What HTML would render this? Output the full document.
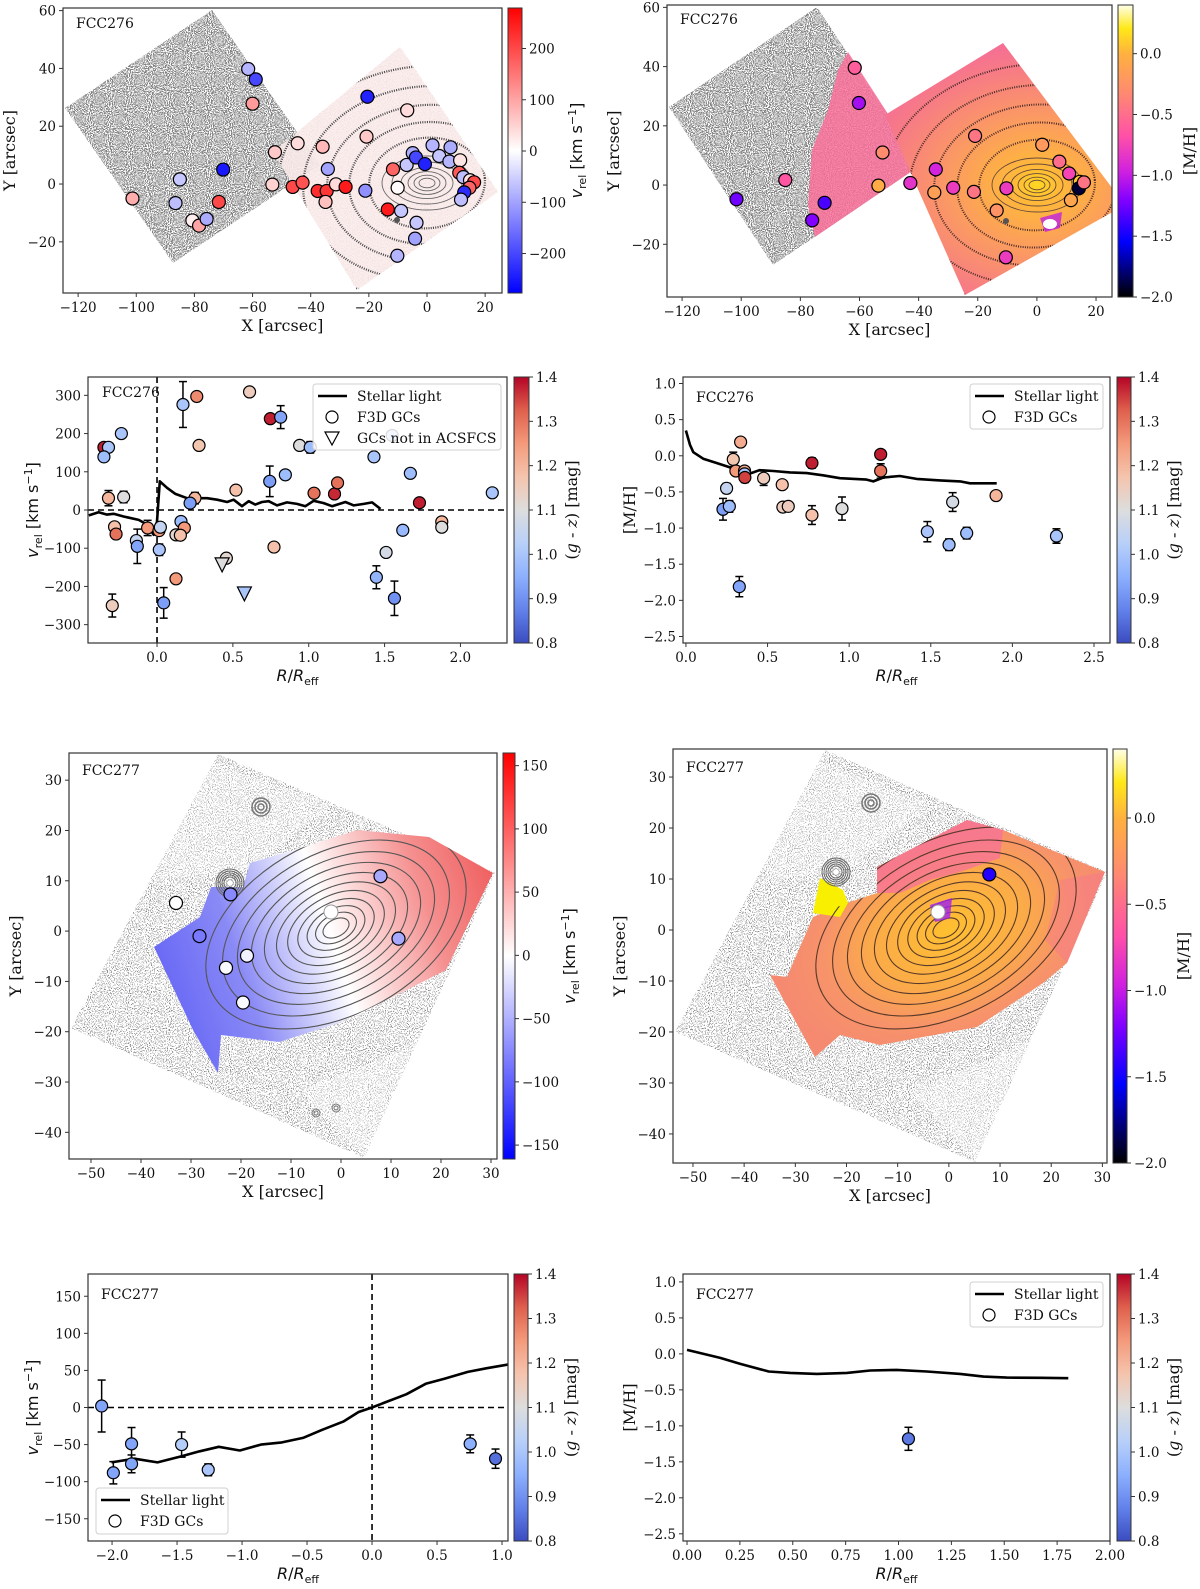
<!DOCTYPE html>
<html><head><meta charset="utf-8"><title>FCC276 / FCC277 GC kinematics</title>
<style>
html,body{margin:0;padding:0;background:#fff;}
svg{display:block;}
text{font-family:"DejaVu Serif","Liberation Serif",serif;fill:#111;}
.ax{font-family:"DejaVu Sans","Liberation Sans",sans-serif;}
</style></head>
<body>
<svg id="fig" xmlns="http://www.w3.org/2000/svg" width="1200" height="1589" viewBox="0 0 1200 1589">
<defs>
<filter id="nzDark" x="0" y="0" width="100%" height="100%"><feTurbulence type="fractalNoise" baseFrequency="0.95" numOctaves="1" seed="4"/><feColorMatrix type="matrix" values="0 0 0 0 0.22 0 0 0 0 0.22 0 0 0 0 0.22 -14 0 0 0 7.6"/><feComposite operator="in" in2="SourceGraphic"/></filter>
<filter id="nzLight" x="0" y="0" width="100%" height="100%"><feTurbulence type="fractalNoise" baseFrequency="0.95" numOctaves="1" seed="9"/><feColorMatrix type="matrix" values="0 0 0 0 0.25 0 0 0 0 0.25 0 0 0 0 0.25 -14 0 0 0 6.3"/><feComposite operator="in" in2="SourceGraphic"/></filter>
<radialGradient id="mhGrad276" gradientUnits="userSpaceOnUse" cx="1037" cy="185" r="150" gradientTransform="translate(1037 185) scale(1.3 1) translate(-1037 -185)"><stop offset="0" stop-color="#ffd820"/><stop offset="0.12" stop-color="#ffb83a"/><stop offset="0.45" stop-color="#fb9a62"/><stop offset="0.75" stop-color="#f77e82"/><stop offset="1" stop-color="#f46a9a"/></radialGradient>
<radialGradient id="mhGrad277" gradientUnits="userSpaceOnUse" cx="949" cy="930" r="120" gradientTransform="rotate(-22 949 930) translate(949 930) scale(1.45 1) translate(-949 -930)"><stop offset="0" stop-color="#ffc030"/><stop offset="0.45" stop-color="#fbab48"/><stop offset="0.75" stop-color="#f7936a"/><stop offset="1" stop-color="#f58a70"/></radialGradient>
<linearGradient id="velGrad277" gradientUnits="userSpaceOnUse" x1="154" y1="990" x2="493" y2="880"><stop offset="0" stop-color="#6464f6"/><stop offset="0.25" stop-color="#8a8af6"/><stop offset="0.52" stop-color="#ffffff"/><stop offset="0.8" stop-color="#f59090"/><stop offset="1" stop-color="#f06262"/></linearGradient>
<linearGradient id="cbBwr" x1="0" y1="1" x2="0" y2="0"><stop offset="0" stop-color="#0000ff"/><stop offset="0.5" stop-color="#ffffff"/><stop offset="1" stop-color="#ff0000"/></linearGradient>
<linearGradient id="cbMh" x1="0" y1="1" x2="0" y2="0"><stop offset="0" stop-color="#000000"/><stop offset="0.19" stop-color="#0000ff"/><stop offset="0.33" stop-color="#8000ff"/><stop offset="0.43" stop-color="#d020e0"/><stop offset="0.55" stop-color="#ff50a8"/><stop offset="0.7" stop-color="#ff8a70"/><stop offset="0.83" stop-color="#ffb040"/><stop offset="0.92" stop-color="#ffe818"/><stop offset="1" stop-color="#ffffe8"/></linearGradient>
<linearGradient id="cbCw" x1="0" y1="1" x2="0" y2="0"><stop offset="0" stop-color="#3b4cc0"/><stop offset="0.125" stop-color="#6282ea"/><stop offset="0.25" stop-color="#8db0fe"/><stop offset="0.375" stop-color="#b8d0f9"/><stop offset="0.5" stop-color="#dddddd"/><stop offset="0.625" stop-color="#f5c4ad"/><stop offset="0.75" stop-color="#f49a7b"/><stop offset="0.875" stop-color="#de604d"/><stop offset="1" stop-color="#b40426"/></linearGradient>
</defs>
</svg>
<script>
// ---------------- DATA ----------------
const p1X = [-61.5,-58.9,-60.0,-70.1,-85.0,-101.3,-86.5,-80.7,-78.4,-75.8,-71.6,-52.3,-44.5,-53.2,-46.2,-42.8,-35.9,-34.1,-37.6,-34.5,-31.3,-34.9,-28.0,-20.5,-20.8,-21.2,-6.8,-11.7,-10.1,-13.5,-8.9,-3.6,-4.1,-10.2,-7.0,-4.9,-3.8,-0.7,1.9,4.2,8.1,7.7,11.4,11.1,12.5,14.8,16.2,14.6,12.8,11.7];
const p1Y = [39.8,36.2,27.8,5.0,1.6,-5.0,-6.6,-12.6,-14.4,-12.1,-6.2,11.0,14.1,-0.2,-1.0,0.5,12.9,5.2,-2.4,-2.4,-0.1,-6.2,-1.0,30.2,16.4,-2.3,25.5,5.1,-1.3,-8.8,-9.3,-13.4,-18.9,-24.8,6.6,10.7,9.2,6.9,13.4,9.7,12.7,7.8,8.2,3.9,2.4,1.3,0.6,-1.3,-2.9,-5.4];
const p1V = [-80,-200,110,-250,-60,90,-70,20,100,-90,200,60,40,50,200,190,80,-100,230,220,40,70,250,-240,60,-120,40,170,5,250,-60,-60,-100,-80,-60,-90,-200,-240,-80,-60,-90,-80,30,180,-70,30,200,170,-230,-70];
const p1CbTicks = [200,100,0,-100,-200];
const p2X = [-61.6,-60.2,-85.1,-101.6,-71.8,-76.0,-52.2,-53.6,-42.8,-34.2,-34.7,-28.3,-21.3,-20.9,-13.6,-10.3,-10.5,1.8,7.6,10.9,11.5,14.5,14.2,15.9];
const p2Y = [39.6,27.7,1.7,-4.8,-6.0,-11.9,11.0,-0.2,0.7,5.3,-2.5,-0.9,-2.3,16.6,-8.6,-1.1,-24.4,13.6,7.9,3.9,-5.1,1.1,-1.1,0.9];
const p2MH = [-0.6,-1.1,-0.65,-1.25,-1.35,-1.2,-0.3,-0.05,-0.85,-0.95,-0.15,-0.8,-0.45,-0.45,-0.25,-0.8,-0.8,-0.2,-0.5,-0.75,-0.1,0.1,-1.9,-0.45];
const mhCbTicks = [0.0,-0.5,-1.0,-1.5,-2.0];
const mapXTicks1 = [-120,-100,-80,-60,-40,-20,0,20];
const mapYTicks1 = [60,40,20,0,-20];
const p3R = [-0.35,-0.32,-0.35,-0.235,-0.32,-0.22,-0.28,-0.27,-0.136,-0.13,-0.062,0.013,0.022,0.015,0.171,0.262,0.277,0.25,0.218,0.158,0.18,0.125,0.154,0.125,-0.295,0.044,0.457,0.429,0.576,0.52,0.61,0.747,0.815,0.743,0.846,0.771,0.94,1.01,1.035,1.17,1.19,1.43,1.55,1.67,1.73,1.51,1.62,1.446,1.565,1.877,1.877,2.21];
const p3V = [164,164,139,200,31,34,-44,-63,-80,-95,-47,-54,-45,-104,276,297,169,31,18,-30,-47,-65,-66,-180,-250,-243,-126,-141,-217,52,309,239,243,75,92,-97,169,164,44,42,71,139,195,96,19,-111,-53,-176,-231,-31,-45,45];
const p3G = [1.38,1.0,0.98,1.0,1.2,1.1,1.18,1.3,1.05,0.93,1.25,1.25,1.05,1.0,1.0,1.27,1.17,1.2,0.92,0.98,1.25,1.12,1.18,1.25,1.15,0.92,1.12,1.1,1.0,1.18,1.15,1.38,0.93,0.92,0.98,1.18,1.1,0.98,1.3,1.37,1.3,1.0,1.0,0.98,1.38,1.08,0.97,0.96,0.9,1.2,1.1,1.0];
const p3E = [0,0,10,0,20,15,0,0,0,45,20,0,0,15,60,0,0,15,0,0,0,0,0,0,30,40,0,0,0,0,0,0,30,40,0,0,0,15,0,0,0,10,0,10,0,0,0,30,45,0,0,0];
const p3M = ['o','o','o','o','o','o','o','o','o','o','o','o','o','o','o','o','o','o','o','o','o','o','o','o','o','o','o','v','v','o','o','o','o','o','o','o','o','o','o','o','o','o','o','o','o','o','o','o','o','o','o','o'];
const p3LineR = [-0.45,-0.385,-0.33,-0.286,-0.22,-0.121,-0.066,-0.022,0,0.018,0.066,0.121,0.198,0.264,0.33,0.396,0.462,0.505,0.56,0.604,0.648,0.692,0.736,0.791,0.857,0.923,0.978,1.033,1.099,1.154,1.242,1.297,1.363,1.418,1.473];
const p3LineV = [-14,-6,-12,-10,-17,-26,-38,-65,-30,75,58,42,31,31,31,27,21,27,10,23,14,21,23,12,20,16,10,24,18,10,21,12,16,20,3];
const p3XTicks = [0.0,0.5,1.0,1.5,2.0];
const p3YTicks = [300,200,100,0,-100,-200,-300];
const gzTicks = [1.4,1.3,1.2,1.1,1.0,0.9,0.8];
const p4R = [0.227,0.249,0.266,0.29,0.335,0.306,0.359,0.359,0.361,0.327,0.476,0.59,0.594,0.627,0.772,0.772,0.956,1.193,1.193,1.479,1.612,1.634,1.72,1.9,2.27];
const p4MH = [-0.74,-0.45,-0.70,-0.05,0.19,-0.21,-0.21,-0.25,-0.30,-1.81,-0.31,-0.40,-0.71,-0.70,-0.10,-0.82,-0.73,0.02,-0.21,-1.05,-1.23,-0.64,-1.07,-0.55,-1.11];
const p4G = [0.92,1.05,0.98,1.17,1.22,1.25,1.22,1.0,1.35,0.93,1.15,1.18,1.15,1.15,1.38,1.18,1.1,1.38,1.3,1.0,0.98,1.08,0.98,1.2,1.0];
const p4E = [0.15,0.07,0.08,0.1,0.06,0.06,0.05,0.05,0.07,0.14,0.1,0.05,0.05,0.05,0.07,0.13,0.16,0.05,0.1,0.14,0.08,0.13,0.08,0.05,0.1];
const p4LineR = [0,0.025,0.045,0.106,0.188,0.27,0.33,0.40,0.45,0.535,0.637,0.74,0.84,0.944,1.107,1.148,1.21,1.31,1.413,1.556,1.68,1.74,1.904];
const p4LineMH = [0.35,0.15,0.05,-0.04,-0.10,-0.16,-0.26,-0.24,-0.20,-0.21,-0.23,-0.24,-0.27,-0.31,-0.33,-0.355,-0.30,-0.28,-0.32,-0.34,-0.355,-0.38,-0.38];
const p4XTicks = [0.0,0.5,1.0,1.5,2.0,2.5];
const mhYTicks = [1.0,0.5,0.0,-0.5,-1.0,-1.5,-2.0,-2.5];
const p5X = [-33.0,-22.1,-28.3,-18.8,-23.0,-19.6,7.9,11.5];
const p5Y = [5.6,7.3,-1.0,-4.9,-7.3,-14.2,10.9,-1.5];
const p5V = [0,-75,-85,-10,-5,-5,-55,-55];
const p5CbTicks = [150,100,50,0,-50,-100,-150];
const mapXTicks2 = [-50,-40,-30,-20,-10,0,10,20,30];
const mapYTicks2 = [30,20,10,0,-10,-20,-30,-40];
const p6X = [7.9];
const p6Y = [10.9];
const p6MH = [-1.45];
const p7R = [-2.08,-1.99,-1.85,-1.85,-1.465,-1.26,0.755,0.95];
const p7V = [2,-88,-49,-76,-50,-84,-49,-69];
const p7G = [0.93,0.93,0.93,0.93,1.02,1.0,0.95,0.85];
const p7E = [35,15,22,12,17,8,12,13];
const p7LineR = [-2.004,-1.827,-1.65,-1.473,-1.326,-1.179,-1.017,-0.855,-0.693,-0.531,-0.383,-0.221,-0.103,0,0.088,0.265,0.413,0.56,0.737,0.884,1.046];
const p7LineV = [-74,-69,-74,-66,-59,-53,-58,-50,-47,-41,-30,-19,-6,0,6,18,32,39,48,53,58];
const p7XTicks = [-2.0,-1.5,-1.0,-0.5,0.0,0.5,1.0];
const p7YTicks = [150,100,50,0,-50,-100,-150];
const p8R = [1.047];
const p8MH = [-1.18];
const p8G = [0.86];
const p8E = [0.16];
const p8LineR = [0,0.157,0.252,0.386,0.488,0.614,0.756,0.866,0.992,1.134,1.291,1.402,1.512,1.669,1.803];
const p8LineMH = [0.056,-0.056,-0.139,-0.245,-0.264,-0.278,-0.264,-0.231,-0.222,-0.245,-0.278,-0.315,-0.329,-0.333,-0.338];
const p8XTicks = [0.00,0.25,0.50,0.75,1.00,1.25,1.50,1.75,2.00];

// ---------------- HELPERS ----------------
const NS = 'http://www.w3.org/2000/svg';
const svg = document.getElementById('fig');
function mk(tag, a, p) { const e = document.createElementNS(NS, tag); for (const k in a) e.setAttribute(k, a[k]); (p || svg).appendChild(e); return e; }
function lerpStops(stops, t) {
  t = Math.max(0, Math.min(1, t));
  for (let i = 1; i < stops.length; i++) {
    if (t <= stops[i][0]) {
      const a = stops[i-1], b = stops[i], u = (t - a[0]) / (b[0] - a[0] || 1);
      return 'rgb(' + [1,2,3].map(j => Math.round(a[j] + (b[j]-a[j]) * u)).join(',') + ')';
    }
  }
  const l = stops[stops.length-1]; return 'rgb(' + l[1] + ',' + l[2] + ',' + l[3] + ')';
}
const CW = [[0,59,76,192],[0.125,98,130,234],[0.25,141,176,254],[0.375,184,208,249],[0.5,221,221,221],[0.625,245,196,173],[0.75,244,154,123],[0.875,222,96,77],[1,180,4,38]];
const BWR = [[0,0,0,255],[0.5,255,255,255],[1,255,0,0]];
const MHC = [[0,0,0,0],[0.19,0,0,255],[0.33,128,0,255],[0.43,208,32,224],[0.55,255,80,168],[0.7,255,138,112],[0.83,255,176,64],[0.92,255,232,24],[1,255,255,232]];
const gzColor = g => lerpStops(CW, (g - 0.8) / 0.6);
const mhColor = m => lerpStops(MHC, (m + 2.0) / 2.4);
function fmt(v, d) { const s = v.toFixed(d); return s.replace('-', '\u2212'); }

function makeAxes(name, f) {
  const g = mk('g', {});
  
  
  f.g = g;
  f.sx = v => f.x0 + (v - f.xmin) / (f.xmax - f.xmin) * (f.x1 - f.x0);
  f.sy = v => f.y1 - (v - f.ymin) / (f.ymax - f.ymin) * (f.y1 - f.y0);
  const cid = name + '-clip';
  const cp = mk('clipPath', { id: cid }, g);
  mk('rect', { x: f.x0, y: f.y0, width: f.x1 - f.x0, height: f.y1 - f.y0 }, cp);
  f.plot = mk('g', { 'clip-path': 'url(#' + cid + ')' }, g);
  
  
  return f;
}
function drawFrameTicks(f, xt, yt, xd, yd, xlab, ylabFn) {
  const g = f.g;
  const fr = mk('rect', { x: f.x0, y: f.y0, width: f.x1 - f.x0, height: f.y1 - f.y0, fill: 'none', stroke: '#333', 'stroke-width': 1.2 }, g);
  
  
  xt.forEach(v => {
    const x = f.sx(v);
    mk('line', { x1: x, y1: f.y1, x2: x, y2: f.y1 + 4, stroke: '#333', 'stroke-width': 1 }, g);
    const t = mk('text', { x: x, y: f.y1 + 19, 'font-size': 13.5, 'text-anchor': 'middle' }, g);
    t.textContent = fmt(v, xd);
    
    
  });
  yt.forEach(v => {
    const y = f.sy(v);
    mk('line', { x1: f.x0 - 4, y1: y, x2: f.x0, y2: y, stroke: '#333', 'stroke-width': 1 }, g);
    const t = mk('text', { x: f.x0 - 7, y: y + 5, 'font-size': 13.5, 'text-anchor': 'end' }, g);
    t.textContent = fmt(v, yd);
    
    
  });
  xlab(g, (f.x0 + f.x1) / 2, f.y1 + 38);
  ylabFn(g, f.x0 - 52, (f.y0 + f.y1) / 2);
}
function labelArcsecX(g, x, y) {
  const t = mk('text', { x: x, y: y, 'font-size': 16, 'text-anchor': 'middle' }, g);
  t.textContent = 'X [arcsec]';
  
  
}
function labelArcsecY(g, x, y) {
  const t = mk('text', { x: x + 4, y: y, 'font-size': 16, 'text-anchor': 'middle', transform: 'rotate(-90 ' + (x + 4) + ' ' + y + ')' }, g);
  t.textContent = 'Y [arcsec]';
  
  
}
function labelR(g, x, y) {
  const t = mk('text', { x: x, y: y, 'font-size': 16, 'text-anchor': 'middle', class: 'ax' }, g);
  t.innerHTML = '<tspan font-style="italic">R</tspan>/<tspan font-style="italic">R</tspan><tspan font-size="11" dy="4">eff</tspan>';
  
  
}
function labelV(g, x, y) {
  const t = mk('text', { x: x + 2, y: y, 'font-size': 16, 'text-anchor': 'middle', class: 'ax', transform: 'rotate(-90 ' + (x + 2) + ' ' + y + ')' }, g);
  t.innerHTML = '<tspan font-style="italic">v</tspan><tspan font-size="11" dy="4">rel</tspan><tspan dy="-4"> [km s</tspan><tspan font-size="11" dy="-6">\u22121</tspan><tspan dy="6">]</tspan>';
  
  
}
function labelMH(g, x, y) {
  const t = mk('text', { x: x + 4, y: y, 'font-size': 16, 'text-anchor': 'middle', transform: 'rotate(-90 ' + (x + 4) + ' ' + y + ')' }, g);
  t.textContent = '[M/H]';
  
  
}
function colorbar(name, x, y0, w, y1, grad, vmin, vmax, ticks, dec, title, tfont, toff) {
  const g = mk('g', {});
  
  
  mk('rect', { x: x, y: y0, width: w, height: y1 - y0, fill: 'url(#' + grad + ')', stroke: '#333', 'stroke-width': 1 }, g);
  ticks.forEach(v => {
    const y = y1 - (v - vmin) / (vmax - vmin) * (y1 - y0);
    mk('line', { x1: x + w, y1: y, x2: x + w + 4, y2: y, stroke: '#333' }, g);
    const t = mk('text', { x: x + w + 7, y: y + 5, 'font-size': 13.5 }, g);
    t.textContent = fmt(v, dec);
    
    
  });
  const tx = x + w + toff, ty = (y0 + y1) / 2;
  const t = mk('text', { x: tx, y: ty, 'font-size': 16, 'text-anchor': 'middle', transform: 'rotate(-90 ' + tx + ' ' + ty + ')' }, g);
  if (tfont) t.setAttribute('class', 'ax');
  t.innerHTML = title;
  
  
}
function galLabel(f, txt, dx, dy) {
  const t = mk('text', { x: f.x0 + dx, y: f.y0 + dy, 'font-size': 14 }, f.g);
  t.textContent = txt;
  
  
}
function poly(parent, pts, attrs) { attrs.points = pts.map(p => p.join(',')).join(' '); return mk('polygon', attrs, parent); }
function ellipses(parent, cx, cy, rxs, ratio, rot, attrs) {
  rxs.forEach(r => { const a = Object.assign({ cx: cx, cy: cy, rx: r, ry: r * ratio, fill: 'none', transform: 'rotate(' + rot + ' ' + cx + ' ' + cy + ')' }, attrs); mk('ellipse', a, parent); });
}
function dot(f, x, y, fill, r) {
  return mk('circle', { cx: f.sx(x), cy: f.sy(y), r: r || 6.5, fill: fill, stroke: '#000', 'stroke-width': 1.2 }, f.plot);
}
function errbar(f, x, y, e) {
  if (!e) return;
  const px = f.sx(x), ya = f.sy(y + e), yb = f.sy(y - e);
  mk('line', { x1: px, y1: ya, x2: px, y2: yb, stroke: '#000', 'stroke-width': 1.5 }, f.plot);
  mk('line', { x1: px - 4, y1: ya, x2: px + 4, y2: ya, stroke: '#000', 'stroke-width': 1.5 }, f.plot);
  mk('line', { x1: px - 4, y1: yb, x2: px + 4, y2: yb, stroke: '#000', 'stroke-width': 1.5 }, f.plot);
}
function lineSeries(f, xs, ys) {
  const d = xs.map((x, i) => (i ? 'L' : 'M') + f.sx(x).toFixed(1) + ',' + f.sy(ys[i]).toFixed(1)).join('');
  return mk('path', { d: d, fill: 'none', stroke: '#000', 'stroke-width': 2.6, 'stroke-linejoin': 'round' }, f.plot);
}
function legend(x, y, w, h, entries) {
  const g = mk('g', {});
  
  
  mk('rect', { x: x, y: y, width: w, height: h, rx: 3, fill: '#fff', 'fill-opacity': 0.85, stroke: '#d0d0d0' }, g);
  entries.forEach((en, i) => {
    const yy = y + 12 + i * 21;
    if (en[0] === 'line') mk('line', { x1: x + 5, y1: yy, x2: x + 34, y2: yy, stroke: '#000', 'stroke-width': 2.6 }, g);
    else if (en[0] === 'o') mk('circle', { cx: x + 19, cy: yy, r: 6, fill: '#fff', stroke: '#000', 'stroke-width': 1.2 }, g);
    else mk('polygon', { points: (x + 12) + ',' + (yy - 6) + ' ' + (x + 26) + ',' + (yy - 6) + ' ' + (x + 19) + ',' + (yy + 7), fill: '#fff', stroke: '#000', 'stroke-width': 1.2 }, g);
    const t = mk('text', { x: x + 44, y: yy + 5, 'font-size': 14 }, g);
    t.textContent = en[1];
    
    
  });
}
const VTITLE = '<tspan font-style="italic">v</tspan><tspan font-size="11" dy="4">rel</tspan><tspan dy="-4"> [km s</tspan><tspan font-size="11" dy="-6">\u22121</tspan><tspan dy="6">]</tspan>';
const GZTITLE = '(<tspan font-style="italic">g</tspan> - <tspan font-style="italic">z</tspan>) [mag]';

// ---------------- PANEL 1 ----------------
const f1 = makeAxes('fcc276-velocity-map', { x0: 63, x1: 502, y0: 8, y1: 293, xmin: -125.2, xmax: 25.8, ymin: -37.7, ymax: 60.9 });
poly(f1.plot, [[65,108],[212,10],[320,165],[173,263]], { fill: '#000', filter: 'url(#nzDark)' });
poly(f1.plot, [[400,47],[498,192],[357,290],[273,152]], { fill: '#000', filter: 'url(#nzLight)' });
poly(f1.plot, [[400,47],[498,192],[357,290],[273,152]], { fill: '#fcebeb', 'fill-opacity': 0.9 });
(function () {
  const cp = mk('clipPath', { id: 'sq1clip' }, f1.g); poly(cp, [[400,47],[498,192],[357,290],[273,152]], {});
  const gg = mk('g', { 'clip-path': 'url(#sq1clip)' }, f1.plot);
  ellipses(gg, 427, 183, [58, 78, 100, 124, 150], 0.78, -5, { stroke: '#444', 'stroke-width': 2.2, 'stroke-dasharray': '1 1.3' });
  ellipses(gg, 427, 183, [8, 13, 19, 26, 35, 45], 0.6, 0, { stroke: '#666', 'stroke-width': 0.9 });
})();
mk('circle', { cx: 397, cy: 220, r: 3, fill: '#555' }, f1.plot);
p1X.forEach((x, i) => {
  const c = dot(f1, x, p1Y[i], lerpStops(BWR, (p1V[i] + 277) / 556));
  
  
});
drawFrameTicks(f1, mapXTicks1, mapYTicks1, 0, 0, labelArcsecX, labelArcsecY);
galLabel(f1, 'FCC276', 13, 20);
colorbar('velocity-colorbar-fcc276', 508, 8, 14, 293, 'cbBwr', -277, 279, p1CbTicks, 0, VTITLE, true, 60);

// ---------------- PANEL 2 ----------------
const f2 = makeAxes('fcc276-metallicity-map', { x0: 667, x1: 1112, y0: 5, y1: 297, xmin: -125.1, xmax: 25.4, ymin: -37.8, ymax: 60.8 });
poly(f2.plot, [[669,107],[817,7],[921,165],[773,265]], { fill: '#000', filter: 'url(#nzDark)' });
poly(f2.plot, [[848,52],[921,165],[815,237],[808,205],[812,150],[828,110],[838,70]], { fill: '#f9709a', 'fill-opacity': 0.85 });
poly(f2.plot, [[1003,43],[1125,205],[965,295],[885,115]], { fill: 'url(#mhGrad276)' });
(function () {
  const cp = mk('clipPath', { id: 'sq2clip' }, f2.g); poly(cp, [[1003,43],[1125,205],[965,295],[885,115]], {});
  const gg = mk('g', { 'clip-path': 'url(#sq2clip)' }, f2.plot);
  ellipses(gg, 1037, 185, [58, 80, 103, 128, 155], 0.78, -5, { stroke: '#4a2a2a', 'stroke-width': 2.0, 'stroke-dasharray': '1 1.3' });
  ellipses(gg, 1037, 185, [8, 13, 19, 26, 35, 45], 0.6, 0, { stroke: '#6a4a3a', 'stroke-width': 0.9 });
  poly(gg, [[1040,218],[1062,212],[1060,228],[1045,232]], { fill: '#c020e0', 'fill-opacity': 0.8 });
  mk('ellipse', { cx: 1050, cy: 224, rx: 7, ry: 5, fill: '#fff' }, gg);
})();
mk('circle', { cx: 1006, cy: 221, r: 3, fill: '#555' }, f2.plot);
p2X.forEach((x, i) => {
  const c = dot(f2, x, p2Y[i], mhColor(p2MH[i]));
  
  
});
drawFrameTicks(f2, mapXTicks1, mapYTicks1, 0, 0, labelArcsecX, labelArcsecY);
galLabel(f2, 'FCC276', 13, 19);
colorbar('metallicity-colorbar-fcc276', 1118, 5, 15, 297, 'cbMh', -2.0, 0.4, mhCbTicks, 1, '[M/H]', false, 62);

// ---------------- PANEL 3 ----------------
const f3 = makeAxes('fcc276-velocity-profile', { x0: 88, x1: 507, y0: 377, y1: 643, xmin: -0.455, xmax: 2.307, ymin: -348, ymax: 348 });
mk('line', { x1: f3.x0, y1: f3.sy(0), x2: f3.x1, y2: f3.sy(0), stroke: '#000', 'stroke-width': 1.6, 'stroke-dasharray': '6 4' }, f3.plot);
mk('line', { x1: f3.sx(0), y1: f3.y0, x2: f3.sx(0), y2: f3.y1, stroke: '#000', 'stroke-width': 1.6, 'stroke-dasharray': '6 4' }, f3.plot);
const l3 = lineSeries(f3, p3LineR, p3LineV);


p3R.forEach((r, i) => errbar(f3, r, p3V[i], p3E[i]));
p3R.forEach((r, i) => {
  let m;
  if (p3M[i] === 'v') {
    const px = f3.sx(r), py = f3.sy(p3V[i]);
    m = mk('polygon', { points: (px - 7) + ',' + (py - 6) + ' ' + (px + 7) + ',' + (py - 6) + ' ' + px + ',' + (py + 8), fill: gzColor(p3G[i]), stroke: '#000', 'stroke-width': 1.2 }, f3.plot);
  } else {
    m = dot(f3, r, p3V[i], gzColor(p3G[i]), 6);
  }
  
  
});
drawFrameTicks(f3, p3XTicks, p3YTicks, 1, 0, labelR, labelV);
galLabel(f3, 'FCC276', 14, 20);
legend(313, 384, 188, 66, [['line', 'Stellar light'], ['o', 'F3D GCs'], ['v', 'GCs not in ACSFCS']]);
colorbar('color-colorbar-fcc276-v', 514, 377, 15, 643, 'cbCw', 0.8, 1.4, gzTicks, 1, GZTITLE, false, 48);

// ---------------- PANEL 4 ----------------
const f4 = makeAxes('fcc276-metallicity-profile', { x0: 683, x1: 1110, y0: 377, y1: 643, xmin: -0.018, xmax: 2.598, ymin: -2.59, ymax: 1.09 });
const l4 = lineSeries(f4, p4LineR, p4LineMH);


p4R.forEach((r, i) => errbar(f4, r, p4MH[i], p4E[i]));
p4R.forEach((r, i) => {
  const c = dot(f4, r, p4MH[i], gzColor(p4G[i]), 6);
  
  
});
drawFrameTicks(f4, p4XTicks, mhYTicks, 1, 1, labelR, labelMH);
galLabel(f4, 'FCC276', 13, 25);
legend(970, 384, 133, 45, [['line', 'Stellar light'], ['o', 'F3D GCs']]);
colorbar('color-colorbar-fcc276-mh', 1117, 377, 14, 643, 'cbCw', 0.8, 1.4, gzTicks, 1, GZTITLE, false, 48);

// ---------------- PANEL 5 ----------------
const f5 = makeAxes('fcc277-velocity-map', { x0: 69, x1: 497, y0: 753, y1: 1159, xmin: -54.4, xmax: 31.2, ymin: -45.3, ymax: 35.4 });
poly(f5.plot, [[218,754],[495,873],[364,1158],[71,1028]], { fill: '#000', filter: 'url(#nzLight)' });
poly(f5.plot, [[205,760],[330,805],[250,870],[160,880],[140,840]], { fill: '#fff', 'fill-opacity': 0.3 });
poly(f5.plot, [[300,1090],[364,1158],[420,1040],[380,1060]], { fill: '#fff', 'fill-opacity': 0.35 });
const vreg5 = [[250,863],[304,847],[357,830],[429,837],[493,873],[446,970],[393,997],[339,1023],[279,1042],[221,1035],[218,1073],[193,1030],[154,947],[200,917],[211,887],[243,887]];
poly(f5.plot, vreg5, { fill: 'url(#velGrad277)' });
(function () {
  const cp = mk('clipPath', { id: 'v5clip' }, f5.g); poly(cp, vreg5, {});
  const gg = mk('g', { 'clip-path': 'url(#v5clip)' }, f5.plot);
  ellipses(gg, 336, 928, [14, 22, 31, 41, 52, 64, 77, 91, 106, 122, 140], 0.62, -28, { stroke: '#555', 'stroke-width': 1.1 });
})();
ellipses(f5.plot, 261, 807, [3, 6, 9], 1, 0, { stroke: '#777', 'stroke-width': 1.5 });
ellipses(f5.plot, 230, 883, [3, 6, 8, 10, 12, 14], 1, 0, { stroke: '#666', 'stroke-width': 1 });
mk('circle', { cx: 230, cy: 883, r: 3, fill: '#fff' }, f5.plot);
mk('circle', { cx: 331, cy: 912, r: 7, fill: '#fff', stroke: '#999' }, f5.plot);
ellipses(f5.plot, 316, 1113, [2, 4], 1, 0, { stroke: '#777' });
ellipses(f5.plot, 336, 1108, [2, 4], 1, 0, { stroke: '#777' });
p5X.forEach((x, i) => {
  const c = dot(f5, x, p5Y[i], lerpStops(BWR, (p5V[i] + 161) / 321));
  
  
});
drawFrameTicks(f5, mapXTicks2, mapYTicks2, 0, 0, labelArcsecX, labelArcsecY);
galLabel(f5, 'FCC277', 13, 22);
colorbar('velocity-colorbar-fcc277', 503, 753, 12, 1159, 'cbBwr', -161, 160, p5CbTicks, 0, VTITLE, true, 60);

// ---------------- PANEL 6 ----------------
const f6 = makeAxes('fcc277-metallicity-map', { x0: 673, x1: 1107, y0: 749, y1: 1163, xmin: -53.9, xmax: 30.9, ymin: -45.7, ymax: 35.5 });
poly(f6.plot, [[825,750],[1107,872],[975,1162],[675,1032]], { fill: '#000', filter: 'url(#nzLight)' });
poly(f6.plot, [[812,758],[930,805],[850,868],[770,880],[750,840]], { fill: '#fff', 'fill-opacity': 0.3 });
poly(f6.plot, [[910,1090],[975,1162],[1030,1040],[990,1060]], { fill: '#fff', 'fill-opacity': 0.35 });
const mreg6 = [[877,867],[967,820],[1003,830],[1105,872],[1067,963],[1043,983],[977,1027],[880,1045],[840,1035],[815,1057],[770,975],[787,977],[813,917],[847,903],[877,893]];
poly(f6.plot, mreg6, { fill: 'url(#mhGrad277)' });
poly(f6.plot, [[877,867],[967,820],[1003,830],[1000,858],[960,872],[930,880],[900,893],[877,893]], { fill: '#f7709a', 'fill-opacity': 0.75 });
poly(f6.plot, [[1060,880],[1105,872],[1067,963],[1045,940]], { fill: '#f7709a', 'fill-opacity': 0.35 });
poly(f6.plot, [[820,878],[843,890],[848,903],[840,917],[813,913]], { fill: '#f8f000' });
(function () {
  const cp = mk('clipPath', { id: 'm6clip' }, f6.g); poly(cp, mreg6, {});
  const gg = mk('g', { 'clip-path': 'url(#m6clip)' }, f6.plot);
  ellipses(gg, 946, 928, [14, 22, 31, 41, 52, 64, 77, 91, 106, 122, 140], 0.62, -28, { stroke: '#5a3a2a', 'stroke-width': 1.1 });
})();
ellipses(f6.plot, 871, 803, [3, 6, 9], 1, 0, { stroke: '#777', 'stroke-width': 1.5 });
ellipses(f6.plot, 836, 872, [3, 6, 8, 10, 12, 14], 1, 0, { stroke: '#666', 'stroke-width': 1 });
mk('circle', { cx: 836, cy: 872, r: 3, fill: '#fff' }, f6.plot);
poly(f6.plot, [[930,905],[952,898],[950,918],[935,922]], { fill: '#a020f0', 'fill-opacity': 0.8 });
mk('circle', { cx: 938, cy: 912, r: 7, fill: '#fff', stroke: '#999' }, f6.plot);
p6X.forEach((x, i) => {
  const c = dot(f6, x, p6Y[i], mhColor(p6MH[i]));
  
  
});
drawFrameTicks(f6, mapXTicks2, mapYTicks2, 0, 0, labelArcsecX, labelArcsecY);
galLabel(f6, 'FCC277', 13, 23);
colorbar('metallicity-colorbar-fcc277', 1113, 749, 14, 1163, 'cbMh', -2.0, 0.4, mhCbTicks, 1, '[M/H]', false, 62);

// ---------------- PANEL 7 ----------------
const f7 = makeAxes('fcc277-velocity-profile', { x0: 88, x1: 508, y0: 1274, y1: 1541, xmin: -2.185, xmax: 1.046, ymin: -180, ymax: 180 });
mk('line', { x1: f7.x0, y1: f7.sy(0), x2: f7.x1, y2: f7.sy(0), stroke: '#000', 'stroke-width': 1.6, 'stroke-dasharray': '6 4' }, f7.plot);
mk('line', { x1: f7.sx(0), y1: f7.y0, x2: f7.sx(0), y2: f7.y1, stroke: '#000', 'stroke-width': 1.6, 'stroke-dasharray': '6 4' }, f7.plot);
const l7 = lineSeries(f7, p7LineR, p7LineV);


p7R.forEach((r, i) => errbar(f7, r, p7V[i], p7E[i]));
p7R.forEach((r, i) => {
  const c = dot(f7, r, p7V[i], gzColor(p7G[i]), 6);
  
  
});
drawFrameTicks(f7, p7XTicks, p7YTicks, 1, 0, labelR, labelV);
galLabel(f7, 'FCC277', 13, 25);
legend(96, 1488, 132, 46, [['line', 'Stellar light'], ['o', 'F3D GCs']]);
colorbar('color-colorbar-fcc277-v', 514, 1274, 14, 1541, 'cbCw', 0.8, 1.4, gzTicks, 1, GZTITLE, false, 48);

// ---------------- PANEL 8 ----------------
const f8 = makeAxes('fcc277-metallicity-profile', { x0: 683, x1: 1110, y0: 1274, y1: 1541, xmin: -0.019, xmax: 2.0, ymin: -2.6, ymax: 1.11 });
const l8 = lineSeries(f8, p8LineR, p8LineMH);


p8R.forEach((r, i) => errbar(f8, r, p8MH[i], p8E[i]));
p8R.forEach((r, i) => {
  const c = dot(f8, r, p8MH[i], gzColor(p8G[i]), 6);
  
  
});
drawFrameTicks(f8, p8XTicks, mhYTicks, 2, 1, labelR, labelMH);
galLabel(f8, 'FCC277', 13, 25);
legend(970, 1282, 133, 45, [['line', 'Stellar light'], ['o', 'F3D GCs']]);
colorbar('color-colorbar-fcc277-mh', 1117, 1274, 14, 1541, 'cbCw', 0.8, 1.4, gzTicks, 1, GZTITLE, false, 48);
</script>
</body></html>
